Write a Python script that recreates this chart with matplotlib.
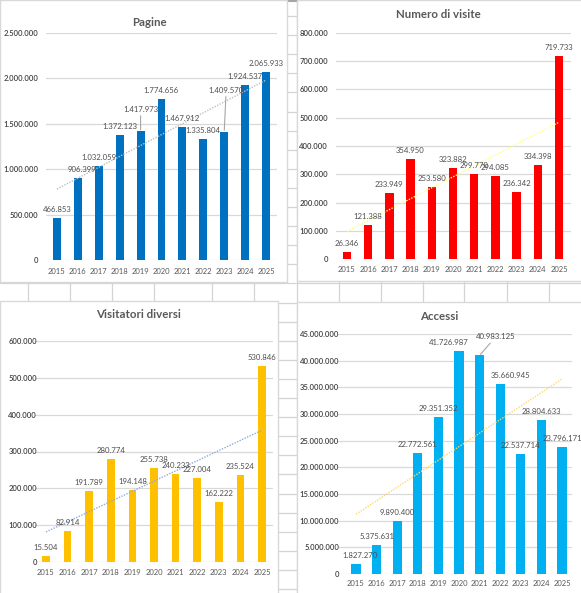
"""
Four Excel-style bar charts (site statistics 2015-2025) on a spreadsheet background.
"""
import numpy as np
import matplotlib
matplotlib.use("Agg")
import matplotlib.pyplot as plt
from matplotlib.patches import Rectangle

plt.rcParams['font.family'] = ['Lato', 'DejaVu Sans']

# --- data -------------------------------------------------------------------
years = ['2015', '2016', '2017', '2018', '2019', '2020', '2021', '2022', '2023', '2024', '2025']

pagine = [466853, 906399, 1032059, 1372123, 1417973, 1774656,
          1467912, 1335804, 1409570, 1924537, 2065933]
visite = [26346, 121388, 233949, 354950, 253580, 323882,
          299770, 294085, 236342, 334398, 719733]
visitatori = [15504, 82914, 191789, 280774, 194148, 255738,
              240233, 227004, 162222, 235524, 530846]
accessi = [1827270, 5375631, 9890400, 22772561, 29351352, 41726987,
           40983125, 35660945, 22537714, 28804633, 23796171]

titles = ['Pagine', 'Numero di visite', 'Visitatori diversi', 'Accessi']

W, H = 581, 593
TXT = '#595959'
GRID = '#D9D9D9'


def fmt(v):
    return f"{int(v):,}".replace(",", ".")


def px(x, y):
    """pixel (top-left origin) -> figure fraction"""
    return x / W, 1 - y / H


fig = plt.figure(figsize=(W / 100, H / 100), dpi=100)

# spreadsheet background
bg = fig.add_axes([0, 0, 1, 1], zorder=0)
bg.set_xlim(0, W)
bg.set_ylim(H, 0)
bg.axis('off')
for cx in [28, 70, 112, 154, 212, 254, 297, 339, 381, 423, 464, 507, 549]:
    bg.axvline(cx, color='#D4D4D4', lw=0.9)
for ry in np.arange(16, H, 19.1):
    bg.axhline(ry, color='#D4D4D4', lw=0.9)
bg.axhline(0.6, color='#A6A6A6', lw=1.5)

panels = [(0, 0, 287, 282), (297, 0, 590, 281), (0, 301, 278, 600), (297, 302, 590, 600)]
for x0, y0, x1, y1 in panels:
    bg.add_patch(Rectangle((x0, y0), x1 - x0, y1 - y0, facecolor='white',
                           edgecolor=GRID, lw=1, zorder=3))

# chart layout: plot left/right, pixel of 0, pixel of top tick, first/last bar centre
layout = [
    dict(left=46, right=277, y0=260, ytop=32.7, first=57, last=266, ymax=2500000, step=500000,
         title=(149, 22), lab=38, xlab=12, width=0.38, color='#0070C0', trend='#BFBFBF'),
    dict(left=336, right=571, y0=259, ytop=33, first=347, last=559, ymax=800000, step=100000,
         title=(438, 15), lab=328, xlab=11, width=0.39, color='#FF0000', trend='#FFFF80'),
    dict(left=35, right=273, y0=562, ytop=341, first=46, last=262, ymax=600000, step=100000,
         title=(138, 315), lab=37, xlab=11, width=0.36, color='#FFC000', trend='#8FAADC'),
    dict(left=338, right=572, y0=574, ytop=334, first=356, last=562, ymax=45000000, step=5000000,
         title=(439, 317), lab=339, xlab=10, width=0.44, color='#00B0F0', trend='#FFD966'),
]

# manual label nudges (dx, extra dy) in pixels, and which get leader lines
nudges = [
    {4: (0, 13), 8: (2, 33), 1: (4, 0)},
    {},
    {},
    {0: (4, 0), 5: (-10, 0), 6: (16, 10), 7: (10, 0)},
]
leaders = [{4, 8}, set(), set(), {6}]

series = [pagine, visite, visitatori, accessi]

for k, (vals, L) in enumerate(zip(series, layout)):
    fl, ft = px(L['left'], L['ytop'])
    fr, fb = px(L['right'], L['y0'])
    ax = fig.add_axes([fl, fb, fr - fl, ft - fb], zorder=2)
    ax.patch.set_alpha(0)

    x = np.arange(len(years))
    s = (L['last'] - L['first']) / (len(years) - 1)
    ax.set_xlim(-(L['first'] - L['left']) / s, len(years) - 1 + (L['right'] - L['last']) / s)
    ax.set_ylim(0, L['ymax'])

    ax.bar(x, vals, width=L['width'], color=L['color'], zorder=2)

    # linear trend line
    coef = np.polyfit(x, vals, 1)
    ax.plot(x, np.polyval(coef, x), color=L['trend'], lw=1.0,
            linestyle=(0, (1, 1)), zorder=3)

    ax.set_yticks(np.arange(0, L['ymax'] + 1, L['step']))
    ax.set_yticklabels([fmt(t) for t in ax.get_yticks()])
    ax.set_xticks(x)
    ax.set_xticklabels(years)
    ax.tick_params(axis='y', length=0, labelsize=5.5, labelcolor='#404040',
                   pad=(L['left'] - L['lab']) / 1.389)
    ax.tick_params(axis='x', length=0, labelsize=5.5, labelcolor=TXT,
                   pad=(L['xlab'] - 3.5) / 1.389)
    for t in ax.get_yticklabels():
        t.set_fontweight('semibold')
    for sp in ax.spines.values():
        sp.set_visible(False)
    ax.yaxis.grid(True, color=GRID, lw=0.9)
    ax.set_axisbelow(True)

    for i, v in enumerate(vals):
        dx, dy = nudges[k].get(i, (0, 0))
        arrow = None
        if i in leaders[k]:
            arrow = dict(arrowstyle='-', color='#A6A6A6', lw=0.8, shrinkA=0, shrinkB=1)
        ax.annotate(fmt(v), xy=(i, v), xytext=(dx, 8.5 + dy), textcoords='offset pixels',
                    ha='center', va='center', fontsize=5.6, color='#4D4D4D',
                    arrowprops=arrow, annotation_clip=False, zorder=4)

    tx, ty = px(*L['title'])
    fig.text(tx, ty, titles[k], ha='center', va='center', fontsize=8.3,
             fontweight='bold', color=TXT)

fig.savefig('out.png', dpi=100)
